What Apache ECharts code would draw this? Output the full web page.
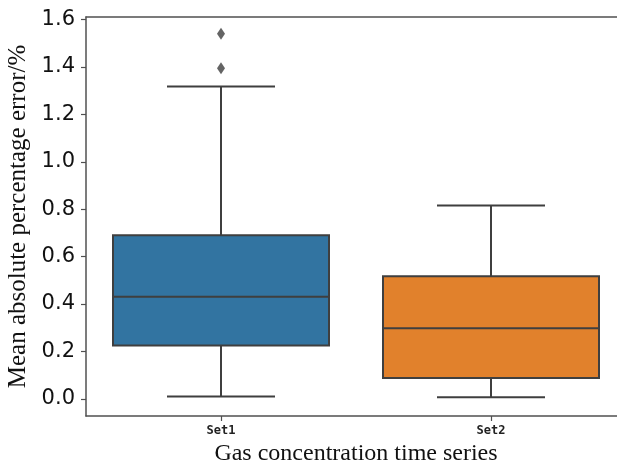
<!DOCTYPE html>
<html>
<head>
<meta charset="utf-8">
<script src="https://cdn.jsdelivr.net/npm/echarts@6/dist/echarts.min.js"></script>
<style>
  html, body { margin: 0; padding: 0; background: #fff; }
  #chart { width: 617px; height: 465px; }
</style>
</head>
<body>
<div id="chart"></div>
<script>
// categories and box statistics
var categories = ['Set1', 'Set2'];
var lowWhisker = [0.010, 0.007];
var q1 = [0.225, 0.088];
var median = [0.431, 0.298];
var q3 = [0.690, 0.517];
var highWhisker = [1.318, 0.816];
var outliers = [[0, 1.540], [0, 1.395]];
var boxColors = ['#3274a1', '#e1812c'];
var yTicks = [0, 0.2, 0.4, 0.6, 0.8, 1.0, 1.2, 1.4, 1.6];

var boxData = categories.map(function (c, i) {
    return [i, lowWhisker[i], q1[i], median[i], q3[i], highWhisker[i]];
});

var edge = '#3f3f3f';
var spine = '#505050';

function renderBox(params, api) {
    var idx = api.value(0);
    var band = api.size([1, 0])[0];
    var boxW = band * 0.8;
    var capW = boxW / 2;
    var pLow = api.coord([idx, api.value(1)]);
    var pQ1 = api.coord([idx, api.value(2)]);
    var pMed = api.coord([idx, api.value(3)]);
    var pQ3 = api.coord([idx, api.value(4)]);
    var pHigh = api.coord([idx, api.value(5)]);
    var cx = pMed[0];
    var line = { stroke: edge, lineWidth: 2 };
    return {
        type: 'group',
        children: [
            { type: 'line', shape: { x1: cx, y1: pLow[1], x2: cx, y2: pQ1[1] }, style: line },
            { type: 'line', shape: { x1: cx, y1: pQ3[1], x2: cx, y2: pHigh[1] }, style: line },
            { type: 'line', shape: { x1: cx - capW / 2, y1: pLow[1], x2: cx + capW / 2, y2: pLow[1] }, style: line },
            { type: 'line', shape: { x1: cx - capW / 2, y1: pHigh[1], x2: cx + capW / 2, y2: pHigh[1] }, style: line },
            {
                type: 'rect',
                shape: { x: cx - boxW / 2, y: pQ3[1], width: boxW, height: pQ1[1] - pQ3[1] },
                style: { fill: boxColors[params.dataIndex], stroke: edge, lineWidth: 2 }
            },
            { type: 'line', shape: { x1: cx - boxW / 2, y1: pMed[1], x2: cx + boxW / 2, y2: pMed[1] }, style: line }
        ]
    };
}

var chart = echarts.init(document.getElementById('chart'));

var option = {
    animation: false,
    backgroundColor: '#fff',
    grid: { left: 86, top: 17, width: 540, height: 399, containLabel: false, outerBoundsMode: 'none' },
    xAxis: [
        {
            type: 'category',
            data: categories,
            position: 'bottom',
            axisLine: { show: true, onZero: false, lineStyle: { color: spine, width: 1.5 } },
            axisTick: { show: true, alignWithLabel: true, length: 5, lineStyle: { color: spine, width: 1.2 } },
            axisLabel: { margin: 9, color: '#222', fontSize: 12, fontWeight: 'bold', fontFamily: 'DejaVu Sans Mono' },
            splitLine: { show: false },
            name: 'Gas concentration time series',
            nameLocation: 'middle',
            nameGap: 25,
            nameTextStyle: { fontFamily: 'Liberation Serif', fontSize: 24, color: '#111' }
        },
        {
            type: 'category',
            data: categories,
            position: 'top',
            axisLine: { show: true, onZero: false, lineStyle: { color: spine, width: 1.5 } },
            axisTick: { show: false },
            axisLabel: { show: false }
        }
    ],
    yAxis: {
        type: 'value',
        min: -0.0725,
        max: 1.611,
        axisLine: { show: true, onZero: false, lineStyle: { color: spine, width: 1.5 } },
        axisTick: { show: true, length: 5, customValues: yTicks, lineStyle: { color: spine, width: 1.2 } },
        axisLabel: {
            margin: 11,
            customValues: yTicks,
            color: '#111',
            fontSize: 21,
            fontFamily: 'DejaVu Sans',
            formatter: function (v) { return v.toFixed(1); }
        },
        splitLine: { show: false },
        name: 'Mean absolute percentage error/%',
        nameLocation: 'middle',
        nameGap: 51,
        nameTextStyle: { fontFamily: 'Liberation Serif', fontSize: 25, color: '#111' }
    },
    series: [
        {
            type: 'custom',
            renderItem: renderBox,
            encode: { x: 0, y: [1, 2, 3, 4, 5] },
            data: boxData,
            z: 2
        },
        {
            type: 'scatter',
            data: outliers,
            symbol: 'diamond',
            symbolSize: [8, 12],
            itemStyle: { color: '#3d3d3d' },
            z: 3
        }
    ]
};

chart.setOption(option);
</script>
</body>
</html>
